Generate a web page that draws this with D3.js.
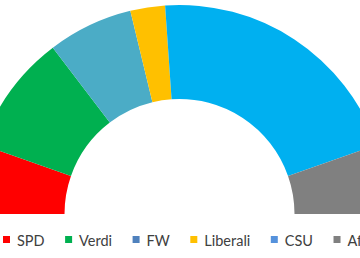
<!DOCTYPE html>
<html>
<head>
<meta charset="utf-8">
<script src="https://d3js.org/d3.v7.min.js"></script>
<style>
  body { margin: 0; background: #fff; }
  svg { display: block; }
</style>
</head>
<body>
<svg width="360" height="258"></svg>
<script>
// seats per party
var parties = ["SPD", "Verdi", "FW", "Liberali", "CSU", "AfD"];
var seats = [22, 38, 27, 11, 85, 22];
var sliceColors = ["#FF0000", "#00B050", "#4BACC6", "#FFC000", "#00B0F0", "#808080"];
var legendColors = ["#FF0000", "#00B050", "#4F81BD", "#FFC000", "#5592DC", "#808080"];

var data = parties.map(function(p, i){
  return {party: p, seats: seats[i], fill: sliceColors[i], key: legendColors[i]};
});

var svg = d3.select("svg");
var cx = 179.5, cy = 214;

var pie = d3.pie()
    .sort(null)
    .value(function(d){ return d.seats; })
    .startAngle(-Math.PI / 2)
    .endAngle(Math.PI / 2);

var arc = d3.arc()
    .innerRadius(115)
    .outerRadius(209);

svg.append("g")
    .attr("transform", "translate(" + cx + "," + cy + ")")
  .selectAll("path")
  .data(pie(data))
  .enter().append("path")
    .attr("d", arc)
    .attr("fill", function(d){ return d.data.fill; });

// legend, laid out left to right
var legend = svg.append("g")
    .attr("font-family", "Lato, 'Open Sans', sans-serif")
    .attr("font-size", 14.5)
    .attr("fill", "#404040");

var x = 3;
data.forEach(function(d){
  var item = legend.append("g").attr("transform", "translate(" + x + ",0)");
  item.append("rect")
      .attr("x", 0)
      .attr("y", 236)
      .attr("width", 7)
      .attr("height", 7)
      .attr("fill", d.key);
  var t = item.append("text")
      .attr("x", 14)
      .attr("y", 246)
      .text(d.party);
  x += 14 + t.node().getComputedTextLength() + 20.5;
});
</script>
</body>
</html>
